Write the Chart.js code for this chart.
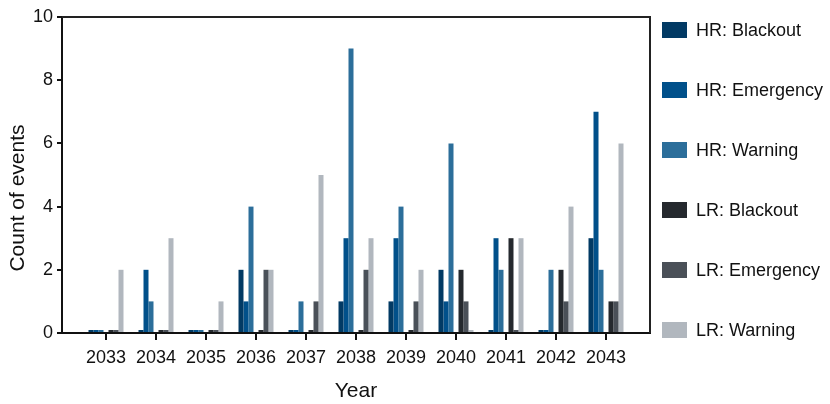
<!DOCTYPE html>
<html>
<head>
<meta charset="utf-8">
<script src="https://cdn.jsdelivr.net/npm/chart.js@4"></script>
<style>
	html, body { margin: 0; padding: 0; background: #fff; }
	#wrap { position: relative; width: 830px; height: 404px; }
	#legend { position: absolute; left: 662px; top: 22px; font-family: "Liberation Sans", Arial, sans-serif; font-size: 18px; color: #111; }
	.item { position: absolute; left: 0; height: 16px; white-space: nowrap; }
	.swatch { position: absolute; left: 0; top: 0; width: 25px; height: 16px; }
	.label { position: absolute; left: 34px; top: -2px; line-height: 20px; }
</style>
</head>
<body>
<div id="wrap">
	<canvas id="eventsChart" width="830" height="404"></canvas>
	<div id="legend"></div>
</div>
<script>
	// Event counts per year
	const years = [2033, 2034, 2035, 2036, 2037, 2038, 2039, 2040, 2041, 2042, 2043];
	const hrBlackout = [0, 0, 0, 2, 0, 1, 1, 2, 0, 0, 3];
	const hrEmergency = [0, 2, 0, 1, 0, 3, 3, 1, 3, 0, 7];
	const hrWarning = [0, 1, 0, 4, 1, 9, 4, 6, 2, 2, 2];
	const lrBlackout = [0, 0, 0, 0, 0, 0, 0, 2, 3, 2, 1];
	const lrEmergency = [0, 0, 0, 2, 1, 2, 1, 1, 0, 1, 1];
	const lrWarning = [2, 3, 1, 2, 5, 3, 2, 0, 3, 4, 6];
	const yTicks = [0, 2, 4, 6, 8, 10];

	const fontFamily = "'Liberation Sans', Arial, sans-serif";
	Chart.defaults.font.family = fontFamily;
	Chart.defaults.color = "#111";

	const series = [
		{ label: "HR: Blackout", values: hrBlackout, color: "#023a64" },
		{ label: "HR: Emergency", values: hrEmergency, color: "#01508a" },
		{ label: "HR: Warning", values: hrWarning, color: "#2c6e9a" },
		{ label: "", values: null, color: "transparent" }, // gap between HR and LR groups
		{ label: "LR: Blackout", values: lrBlackout, color: "#25292e" },
		{ label: "LR: Emergency", values: lrEmergency, color: "#4a5058" },
		{ label: "LR: Warning", values: lrWarning, color: "#b1b7be" },
	];

	const datasets = series.map((s) => ({
		label: s.label,
		data: years.map((yr, i) => ({ x: yr, y: s.values ? s.values[i] : null })),
		backgroundColor: s.color,
		borderWidth: 0,
		minBarLength: 3,
		categoryPercentage: 0.7,
		barPercentage: 1,
	}));

	// box around the plot area (top and right sides), year tick marks, y title
	const frame = {
		id: "frame",
		afterDraw(chart) {
			const { ctx, chartArea: a } = chart;
			const xScale = chart.scales.x;
			ctx.save();
			ctx.strokeStyle = "#222";
			ctx.lineWidth = 2;
			ctx.beginPath();
			ctx.moveTo(a.left, a.top);
			ctx.lineTo(a.right, a.top);
			ctx.lineTo(a.right, a.bottom);
			ctx.stroke();

			ctx.fillStyle = "#111";
			xScale.ticks.forEach((t, i) => {
				const px = Math.round(xScale.getPixelForTick(i));
				ctx.fillRect(px - 1, a.bottom, 2, 7);
			});

			ctx.translate(18, 198);
			ctx.rotate(-Math.PI / 2);
			ctx.font = `21px ${fontFamily}`;
			ctx.textAlign = "center";
			ctx.textBaseline = "middle";
			ctx.fillText("Count of events", 0, 0);
			ctx.restore();
		},
	};

	new Chart(document.getElementById("eventsChart"), {
		type: "bar",
		data: { datasets },
		options: {
			responsive: false,
			animation: false,
			layout: { padding: { top: 17, right: 180, left: 0, bottom: 0 } },
			scales: {
				x: {
					type: "linear",
					min: years[0] - 0.88,
					max: years[years.length - 1] + 0.88,
					offset: false,
					afterFit: (scale) => {
						scale.height = 71;
					},
					ticks: {
						stepSize: 1,
						includeBounds: false,
						padding: 6,
						font: { size: 18 },
						color: "#111",
						callback: (value) => String(value),
					},
					grid: { display: false },
					border: { display: true, color: "#111", width: 2 },
					title: {
						display: true,
						text: "Year",
						font: { size: 21 },
						color: "#111",
						padding: { top: 0, bottom: 0 },
					},
				},
				y: {
					min: 0,
					max: 10,
					afterFit: (scale) => {
						scale.width = 62;
					},
					afterBuildTicks: (scale) => {
						scale.ticks = yTicks.map((v) => ({ value: v }));
					},
					ticks: {
						padding: 4,
						font: { size: 18 },
						color: "#111",
					},
					grid: {
						drawOnChartArea: false,
						tickLength: 5,
						color: "#111",
						lineWidth: 2,
					},
					border: { color: "#111", width: 2 },
				},
			},
			plugins: {
				legend: { display: false },
				tooltip: { enabled: false },
			},
		},
		plugins: [frame],
	});

	// legend on the right, built from the same series list
	const legendEl = document.getElementById("legend");
	series
		.filter((s) => s.values)
		.forEach((s, i) => {
			const item = document.createElement("div");
			item.className = "item";
			item.style.top = `${i * 60}px`;
			item.innerHTML = `<span class="swatch" style="background:${s.color}"></span><span class="label">${s.label}</span>`;
			legendEl.appendChild(item);
		});
</script>
</body>
</html>
